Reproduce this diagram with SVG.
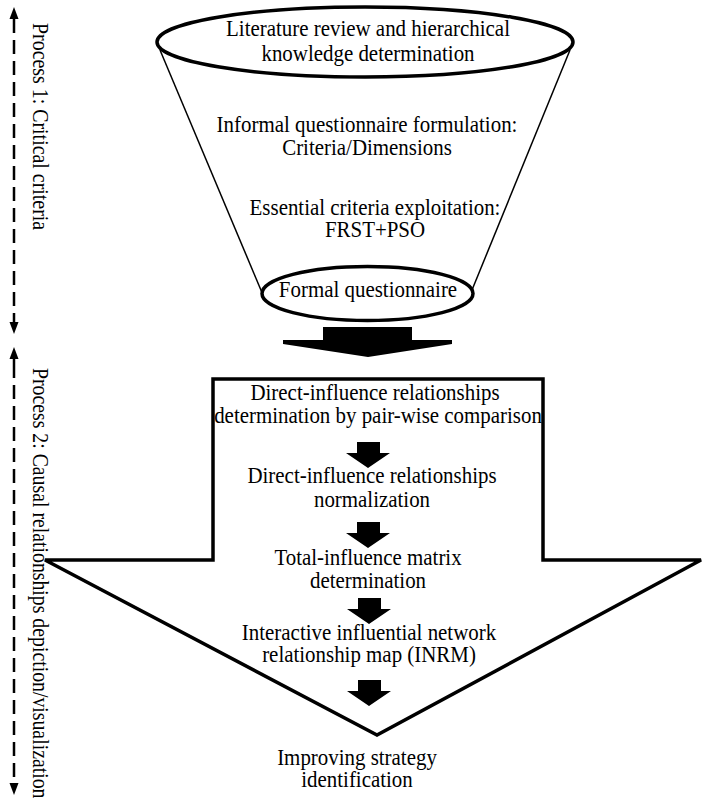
<svg xmlns="http://www.w3.org/2000/svg" width="702" height="812" viewBox="0 0 702 812">
<defs>
<style>
.t{font-family:"Liberation Serif","Times New Roman",serif;font-size:23px;fill:#000;text-anchor:middle}
.side{font-family:"Liberation Serif","Times New Roman",serif;font-size:23px;fill:#000}
.thick{fill:#fff;stroke:#000;stroke-width:3.5}
.thin{fill:none;stroke:#000;stroke-width:1.5}
.dash{fill:none;stroke:#000;stroke-width:2.5;stroke-dasharray:14 7}
.head{fill:#000}
</style>
<polygon id="smallArrow" points="-11,0 12,0 12,11 22,11 0,26 -22,11 -11,11" fill="#000"/>
</defs>
<rect width="702" height="812" fill="#fff"/>

<g id="funnel">
<line class="thin" x1="160" y1="50" x2="263" y2="295"/>
<line class="thin" x1="570" y1="50" x2="472" y2="290"/>
</g>

<g id="literature">
<ellipse class="thick" cx="365" cy="42" rx="208" ry="35"/>
<text class="t" transform="matrix(0.91 0 0 1 368 36)">Literature review and hierarchical</text>
<text class="t" transform="matrix(0.91 0 0 1 368 61)">knowledge determination</text>
</g>

<g id="informal">
<text class="t" transform="matrix(0.91 0 0 1 367 132)">Informal questionnaire formulation:</text>
<text class="t" transform="matrix(0.91 0 0 1 367 155)">Criteria/Dimensions</text>
</g>

<g id="essential">
<text class="t" transform="matrix(0.91 0 0 1 375 215)">Essential criteria exploitation:</text>
<text class="t" transform="matrix(0.91 0 0 1 375 237)">FRST+PSO</text>
</g>

<g id="formal">
<ellipse class="thick" cx="367.5" cy="293.5" rx="105.5" ry="27"/>
<text class="t" transform="matrix(0.91 0 0 1 368 297)">Formal questionnaire</text>
</g>

<g id="process2-frame">
<polygon class="thick" points="213,379 543,379 543,560 701,560 377,735 45,560 213,560"/>
</g>

<g id="connectors">
<polygon points="323,327 412,327 412,340 452,340 452,344 368,357 283,344 283,340 323,340" fill="#000"/>
<use href="#smallArrow" x="368" y="442"/>
<use href="#smallArrow" x="368" y="522"/>
<use href="#smallArrow" x="369" y="598"/>
<use href="#smallArrow" x="369" y="680"/>
</g>

<g id="direct-influence">
<text class="t" transform="matrix(0.91 0 0 1 375 400)">Direct-influence relationships</text>
<text class="t" transform="matrix(0.91 0 0 1 378 423)">determination by pair-wise comparison</text>
</g>

<g id="normalization">
<text class="t" transform="matrix(0.91 0 0 1 372 483)">Direct-influence relationships</text>
<text class="t" transform="matrix(0.91 0 0 1 372 507)">normalization</text>
</g>

<g id="total-influence">
<text class="t" transform="matrix(0.91 0 0 1 368 565)">Total-influence matrix</text>
<text class="t" transform="matrix(0.91 0 0 1 368 588)">determination</text>
</g>

<g id="inrm">
<text class="t" transform="matrix(0.91 0 0 1 369 640)">Interactive influential network</text>
<text class="t" transform="matrix(0.91 0 0 1 369 662)">relationship map (INRM)</text>
</g>

<g id="strategy">
<text class="t" transform="matrix(0.91 0 0 1 357 765)">Improving strategy</text>
<text class="t" transform="matrix(0.91 0 0 1 357 787)">identification</text>
</g>

<g id="process-labels">
<line class="dash" x1="14" y1="19" x2="14" y2="323"/>
<polygon class="head" points="14,7 9.5,19 18.5,19"/>
<polygon class="head" points="14,334 9.5,322 18.5,322"/>
<text class="side" transform="translate(33,23) rotate(90) scale(0.865,1)">Process 1: Critical criteria</text>
<line x1="14" y1="358" x2="14" y2="378" stroke="#000" stroke-width="2.5"/>
<line class="dash" x1="14" y1="385" x2="14" y2="783"/>
<polygon class="head" points="14,347 9.5,359 18.5,359"/>
<polygon class="head" points="14,795 9.5,783 18.5,783"/>
<text class="side" transform="translate(33,368) rotate(90) scale(0.86,1)">Process 2: Causal relationships depiction/visualization</text>
</g>
</svg>
